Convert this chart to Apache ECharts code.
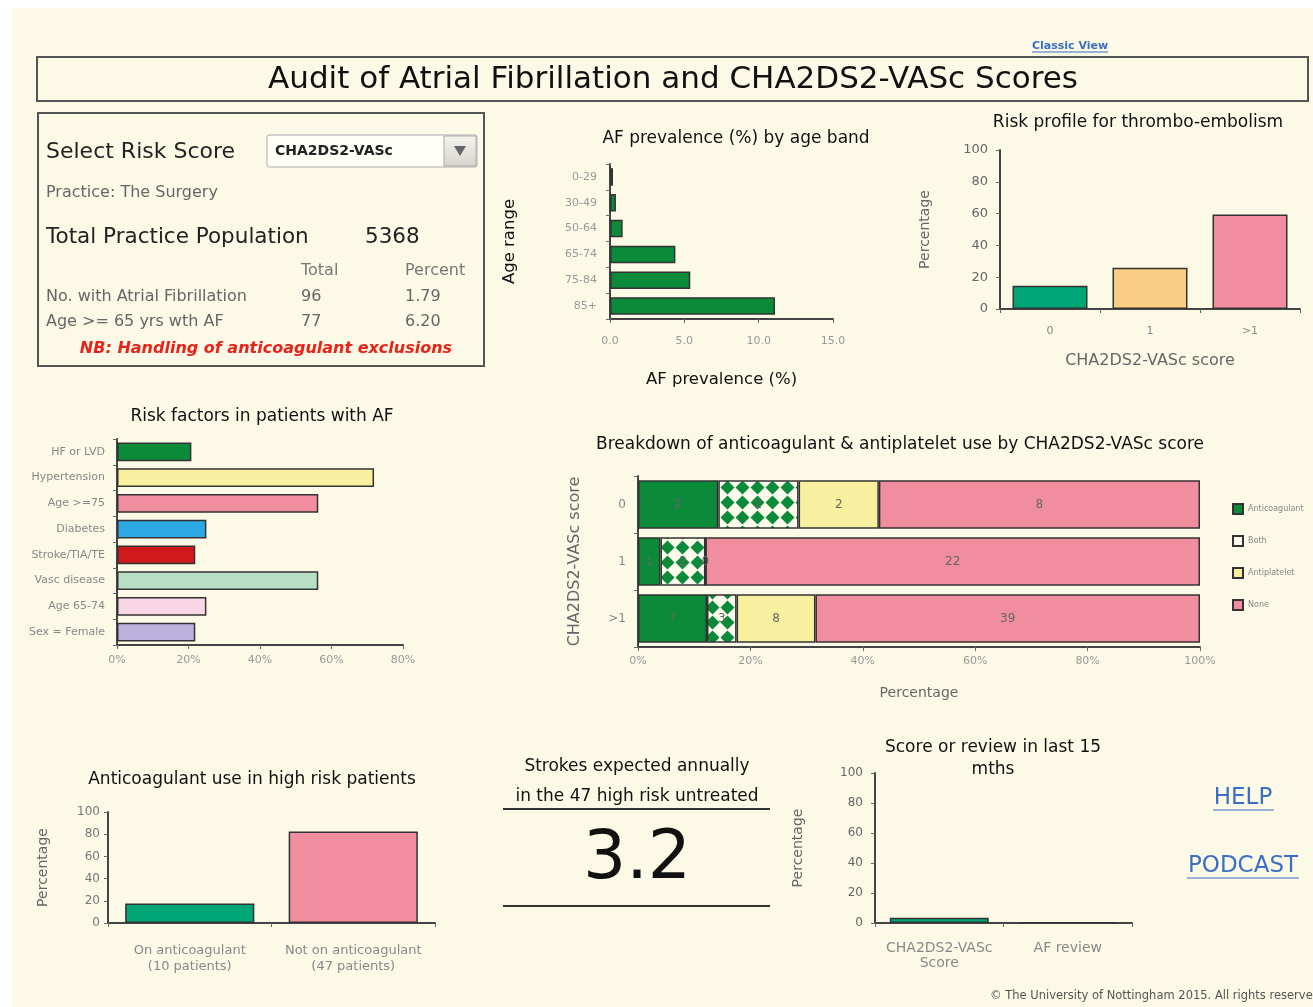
<!DOCTYPE html>
<html>
<head>
<meta charset="utf-8">
<title>Audit of Atrial Fibrillation and CHA2DS2-VASc Scores</title>
<script src="https://cdn.jsdelivr.net/npm/echarts@6/dist/echarts.min.js"></script>
<style>
  html, body { margin: 0; padding: 0; background: #fff; }
  #page { position: absolute; left: 12px; top: 8px; width: 1301px; height: 999px; background: #fcf9e7; }
  #main { position: absolute; left: 0; top: 0; width: 1313px; height: 1007px; }
</style>
</head>
<body>
<div id="page"></div>
<div id="main"></div>
<script>
// ---- data ----
const ageBands = ['0-29', '30-49', '50-64', '65-74', '75-84', '85+'];
const afPrevalence = [0.2, 0.4, 0.85, 4.4, 5.4, 11.1];

const scoreBands = ['0', '1', '>1'];
const riskProfile = [14.6, 26.0, 59.4];

const riskFactors = ['HF or LVD', 'Hypertension', 'Age >=75', 'Diabetes', 'Stroke/TIA/TE', 'Vasc disease', 'Age 65-74', 'Sex = Female'];
const riskFactorPct = [20.8, 71.9, 56.3, 25.0, 21.9, 56.3, 25.0, 21.9];

const treatmentNames = ['Anticoagulant', 'Both', 'Antiplatelet', 'None'];
const anticoagulantCount = [2, 1, 7];
const bothCount = [2, 2, 3];
const antiplateletCount = [2, 0, 8];
const noneCount = [8, 22, 39];

const highRiskGroups = ['On anticoagulant\n(10 patients)', 'Not on anticoagulant\n(47 patients)'];
const highRiskPct = [17.5, 82.5];

const reviewItems = ['CHA2DS2-VASc\nScore', 'AF review'];
const reviewPct = [3.5, 0.5];

// ---- colours ----
const GREEN = '#0b8a3a', TEAL = '#00a676', ORANGE = '#f9cd84', PINK = '#f08ea0';
const YELLOW = '#f8f09e', BLUE = '#2ca8e2', RED = '#d0191b', MINT = '#b9dec6';
const LIGHTPINK = '#f8d6e6', LAVENDER = '#bdb2dd';
const riskFactorColors = [GREEN, YELLOW, PINK, BLUE, RED, MINT, LIGHTPINK, LAVENDER];
const FONT = '"DejaVu Sans"';

// green diamond tile for the "Both" bars
function diamondTile() {
  const c = document.createElement('canvas');
  c.width = 15; c.height = 15;
  const ctx = c.getContext('2d');
  ctx.fillStyle = '#fdfbec';
  ctx.fillRect(0, 0, 15, 15);
  ctx.fillStyle = GREEN;
  ctx.beginPath();
  ctx.moveTo(7.5, 0.5); ctx.lineTo(14.5, 7.5); ctx.lineTo(7.5, 14.5); ctx.lineTo(0.5, 7.5);
  ctx.closePath();
  ctx.fill();
  return c;
}

// percentage stacking per score row
const rowTotals = scoreBands.map((s, i) => anticoagulantCount[i] + bothCount[i] + antiplateletCount[i] + noneCount[i]);
const pct = arr => arr.map((v, i) => v / rowTotals[i] * 100);
const treatmentCounts = [anticoagulantCount, bothCount, antiplateletCount, noneCount];
const treatmentColors = [GREEN, { image: diamondTile(), repeat: 'repeat' }, YELLOW, PINK];

// ---- axis helpers ----
const line = { show: true, lineStyle: { color: '#444', width: 2 } };
const tick = { show: true, length: 4, lineStyle: { color: '#666' } };
function valueAxis(idx, max, interval, extra) {
  return Object.assign({
    type: 'value', gridIndex: idx, min: 0, max: max, interval: interval,
    axisLine: line, axisTick: tick, splitLine: { show: false },
    axisLabel: { color: '#888', fontSize: 12, fontFamily: FONT },
    nameTextStyle: { color: '#666', fontSize: 14, fontFamily: FONT }
  }, extra);
}
function catAxis(idx, data, extra) {
  return Object.assign({
    type: 'category', gridIndex: idx, data: data,
    axisLine: line, axisTick: tick,
    axisLabel: { color: '#888', fontSize: 12, fontFamily: FONT },
    nameTextStyle: { color: '#666', fontSize: 14, fontFamily: FONT }
  }, extra);
}
const border = { borderColor: '#333', borderWidth: 1.5 };

// ---- free text / boxes ----
function txt(x, y, text, font, fill, align) {
  return { type: 'text', x: x, y: y, z: 10,
    style: { text: text, font: font, fill: fill || '#222', textAlign: align || 'left', textVerticalAlign: 'middle' } };
}
function hline(x1, x2, y, color, w) {
  return { type: 'line', z: 10, shape: { x1: x1, y1: y, x2: x2, y2: y }, style: { stroke: color, lineWidth: w } };
}
function box(x, y, w, h) {
  return { type: 'rect', z: 1, shape: { x: x, y: y, width: w, height: h }, style: { fill: 'none', stroke: '#555', lineWidth: 2 } };
}
const titleFont = '17px ' + FONT;

const graphics = [
  // header
  box(37, 57, 1271, 44),
  txt(673, 80, 'Audit of Atrial Fibrillation and CHA2DS2-VASc Scores', '31px ' + FONT, '#111', 'center'),
  txt(1070, 46, 'Classic View', 'bold 11px ' + FONT, '#3b6fc6', 'center'),
  hline(1032, 1108, 52, '#3b6fc6', 1),

  // practice panel
  box(38, 113, 446, 253),
  txt(46, 152, 'Select Risk Score', '22px ' + FONT, '#222'),
  { type: 'rect', z: 5, shape: { x: 267, y: 135, width: 210, height: 32, r: 2 }, style: { fill: '#fffef7', stroke: '#aaa', lineWidth: 1 } },
  { type: 'rect', z: 6, shape: { x: 444, y: 136, width: 32, height: 30 },
    style: { stroke: '#aaa', lineWidth: 1,
      fill: new echarts.graphic.LinearGradient(0, 0, 0, 1, [{ offset: 0, color: '#f6f5ee' }, { offset: 1, color: '#d6d5cc' }]) } },
  { type: 'polygon', z: 7, shape: { points: [[454, 146], [466, 146], [460, 156]] }, style: { fill: '#666' } },
  txt(275, 151, 'CHA2DS2-VASc', 'bold 14px ' + FONT, '#222'),
  txt(46, 193, 'Practice: The Surgery', '16px ' + FONT, '#666'),
  txt(46, 237, 'Total Practice Population', '21.5px ' + FONT, '#222'),
  txt(365, 237, '5368', '21.5px ' + FONT, '#222'),
  txt(301, 271, 'Total', '16px ' + FONT, '#777'),
  txt(405, 271, 'Percent', '16px ' + FONT, '#777'),
  txt(46, 297, 'No. with Atrial Fibrillation', '16px ' + FONT, '#666'),
  txt(301, 297, '96', '16px ' + FONT, '#666'),
  txt(405, 297, '1.79', '16px ' + FONT, '#666'),
  txt(46, 322, 'Age >= 65 yrs wth AF', '16px ' + FONT, '#666'),
  txt(301, 322, '77', '16px ' + FONT, '#666'),
  txt(405, 322, '6.20', '16px ' + FONT, '#666'),
  txt(266, 349, 'NB: Handling of anticoagulant exclusions', 'italic bold 16px ' + FONT, '#e8231a', 'center'),

  // chart titles
  txt(736, 139, 'AF prevalence (%) by age band', titleFont, '#111', 'center'),
  txt(1138, 123, 'Risk profile for thrombo-embolism', titleFont, '#111', 'center'),
  txt(262, 417, 'Risk factors in patients with AF', titleFont, '#111', 'center'),
  txt(900, 445, 'Breakdown of anticoagulant & antiplatelet use by CHA2DS2-VASc score', titleFont, '#111', 'center'),
  txt(252, 780, 'Anticoagulant use in high risk patients', titleFont, '#111', 'center'),
  txt(993, 748, 'Score or review in last 15', titleFont, '#111', 'center'),
  txt(993, 770, 'mths', titleFont, '#111', 'center'),

  // strokes expected panel
  txt(637, 767, 'Strokes expected annually', titleFont, '#111', 'center'),
  txt(637, 797, 'in the 47 high risk untreated', titleFont, '#111', 'center'),
  hline(503, 770, 809, '#333', 2),
  txt(637, 860, '3.2', '68px ' + FONT, '#111', 'center'),
  hline(503, 770, 906, '#333', 2),

  // links and footer
  txt(1243, 798, 'HELP', '23px ' + FONT, '#3b6fc6', 'center'),
  hline(1213, 1274, 810, '#3b6fc6', 1),
  txt(1243, 866, 'PODCAST', '23px ' + FONT, '#3b6fc6', 'center'),
  hline(1187, 1299, 878, '#3b6fc6', 1),
  txt(1320, 996, '\u00a9 The University of Nottingham 2015. All rights reserved', '11.5px ' + FONT, '#555', 'right')
];

// ---- chart ----
const chart = echarts.init(document.getElementById('main'));
const option = {
  backgroundColor: 'transparent',
  animation: false,
  textStyle: { fontFamily: FONT },
  grid: [
    { left: 610, top: 164, width: 223, height: 155 },   // AF prevalence
    { left: 1000, top: 150, width: 300, height: 159 },  // risk profile
    { left: 117, top: 439, width: 286, height: 206 },   // risk factors
    { left: 638, top: 476, width: 562, height: 171 },   // breakdown
    { left: 108, top: 812, width: 327, height: 111 },   // anticoagulant use
    { left: 875, top: 773, width: 257, height: 150 }    // score / review
  ],
  xAxis: [
    valueAxis(0, 15, 5, { name: 'AF prevalence (%)', nameLocation: 'middle', nameGap: 52,
      nameTextStyle: { color: '#111', fontSize: 16.5, fontFamily: FONT },
      axisLabel: { color: '#999', fontSize: 11, margin: 17, formatter: v => v.toFixed(1) } }),
    catAxis(1, scoreBands, { name: 'CHA2DS2-VASc score', nameLocation: 'middle', nameGap: 44,
      nameTextStyle: { color: '#666', fontSize: 16, fontFamily: FONT },
      axisLabel: { color: '#888', fontSize: 11, margin: 17 } }),
    valueAxis(2, 80, 20, { axisLabel: { color: '#999', fontSize: 11, margin: 10, formatter: '{value}%' } }),
    valueAxis(3, 100, 20, { name: 'Percentage', nameLocation: 'middle', nameGap: 39,
      axisLabel: { color: '#999', fontSize: 11, margin: 9, formatter: '{value}%' } }),
    catAxis(4, highRiskGroups, { axisLabel: { color: '#888', fontSize: 13, margin: 20, lineHeight: 16, interval: 0 } }),
    catAxis(5, reviewItems, { axisLabel: { color: '#888', fontSize: 14, margin: 18, lineHeight: 15, interval: 0 } })
  ],
  yAxis: [
    catAxis(0, ageBands, { inverse: true, name: 'Age range', nameLocation: 'middle', nameGap: 92, nameRotate: 90,
      nameTextStyle: { color: '#111', fontSize: 16.5, fontFamily: FONT },
      axisLabel: { color: '#999', fontSize: 11, margin: 13 } }),
    valueAxis(1, 100, 20, { name: 'Percentage', nameLocation: 'middle', nameGap: 68, nameRotate: 90,
      axisLabel: { color: '#666', fontSize: 13, margin: 12 } }),
    catAxis(2, riskFactors, { inverse: true, axisLabel: { color: '#888', fontSize: 11, margin: 12 } }),
    catAxis(3, scoreBands, { inverse: true, name: 'CHA2DS2-VASc score', nameLocation: 'middle', nameGap: 55, nameRotate: 90,
      nameTextStyle: { color: '#666', fontSize: 16, fontFamily: FONT },
      axisLabel: { color: '#888', fontSize: 12, margin: 12 } }),
    valueAxis(4, 100, 20, { name: 'Percentage', nameLocation: 'middle', nameGap: 58, nameRotate: 90,
      axisLabel: { color: '#777', fontSize: 12, margin: 8 } }),
    valueAxis(5, 100, 20, { name: 'Percentage', nameLocation: 'middle', nameGap: 70, nameRotate: 90,
      axisLabel: { color: '#666', fontSize: 12, margin: 12 } })
  ],
  legend: {
    orient: 'vertical', left: 1232, top: 503, padding: 0, itemWidth: 10, itemHeight: 10, itemGap: 20,
    icon: 'rect',
    textStyle: { color: '#888', fontSize: 8, fontFamily: FONT },
    data: [
      { name: 'Anticoagulant' },
      { name: 'Both', itemStyle: { color: '#fffbea' } },
      { name: 'Antiplatelet' },
      { name: 'None' }
    ]
  },
  series: [
    { type: 'bar', xAxisIndex: 0, yAxisIndex: 0, data: afPrevalence, barWidth: '68%',
      itemStyle: Object.assign({ color: GREEN }, border) },
    { type: 'bar', xAxisIndex: 1, yAxisIndex: 1, barWidth: '75%',
      data: riskProfile.map((v, i) => ({ value: v, itemStyle: { color: [TEAL, ORANGE, PINK][i] } })),
      itemStyle: border },
    { type: 'bar', xAxisIndex: 2, yAxisIndex: 2, barWidth: '73%',
      data: riskFactorPct.map((v, i) => ({ value: v, itemStyle: { color: riskFactorColors[i] } })),
      itemStyle: border }
  ].concat(treatmentNames.map((name, k) => ({
    type: 'bar', name: name, stack: 'use', xAxisIndex: 3, yAxisIndex: 3, barWidth: '85%',
    data: pct(treatmentCounts[k]),
    itemStyle: Object.assign({ color: treatmentColors[k] }, border),
    label: { show: true, position: 'inside', color: '#666', fontSize: 12,
      formatter: p => String(treatmentCounts[k][p.dataIndex]) }
  }))).concat([
    { type: 'bar', xAxisIndex: 4, yAxisIndex: 4, barWidth: '79%',
      data: highRiskPct.map((v, i) => ({ value: v, itemStyle: { color: [TEAL, PINK][i] } })),
      itemStyle: border },
    { type: 'bar', xAxisIndex: 5, yAxisIndex: 5, barWidth: '77%',
      data: reviewPct.map((v, i) => ({ value: v, itemStyle: { color: [TEAL, '#222'][i] } })),
      itemStyle: border }
  ]),
  graphic: graphics
};
chart.setOption(option);
</script>
</body>
</html>
